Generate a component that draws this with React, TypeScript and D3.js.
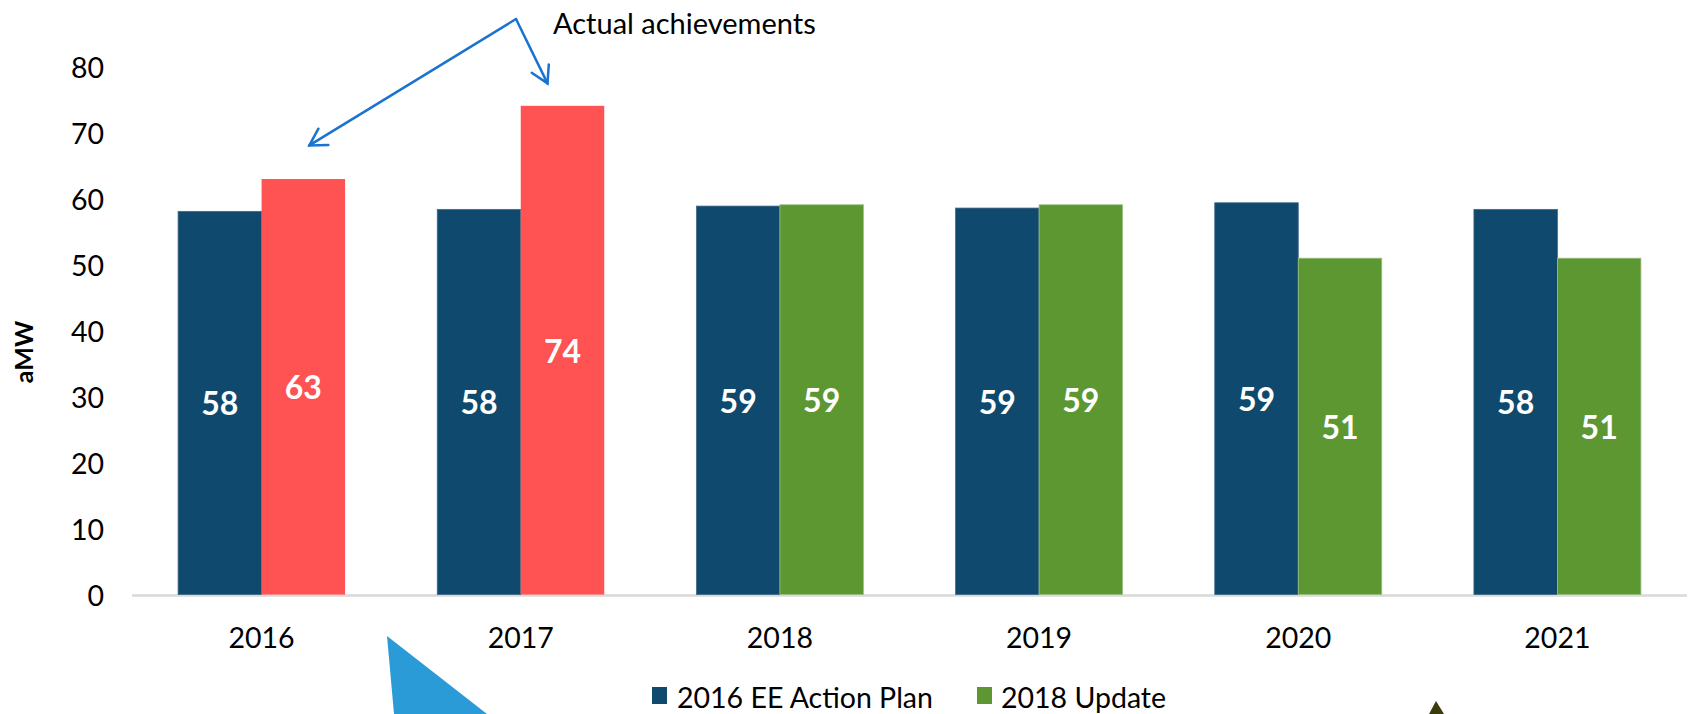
import React from "react";
import * as d3 from "d3";

const years = ["2016", "2017", "2018", "2019", "2020", "2021"];
const planValues = [58.1, 58.4, 58.9, 58.6, 59.4, 58.4];
const planLabels = ["58", "58", "59", "59", "59", "58"];
const updateValues = [63.0, 74.1, 59.1, 59.1, 51.0, 51.0];
const updateLabels = ["63", "74", "59", "59", "51", "51"];
const actualFlags = [true, true, false, false, false, false];
const yTicks = [0, 10, 20, 30, 40, 50, 60, 70, 80];
const seriesNames = ["2016 EE Action Plan", "2018 Update"];

const W = 1692;
const H = 714;
const BLUE = "#0f4a6e";
const RED = "#ff5252";
const GREEN = "#5d9732";
const FONT = "Lato, 'Open Sans', sans-serif";

export default function App() {
  const x = d3.scaleBand<string>().domain(years).range([132, 1687]).paddingInner(0).paddingOuter(0);
  const y = d3.scaleLinear().domain([0, 80]).range([594.6, 66.9]);
  const groupW = 167;
  const inner = d3.scaleBand<string>().domain(["a", "b"]).range([0, groupW]);
  const barW = inner.bandwidth();
  const gx = (yr: string) => (x(yr) as number) + (x.bandwidth() - groupW) / 2;

  const start = { x: 516, y: 19 };
  const tip1 = { x: gx("2016") + (inner("b") as number) + barW / 2 + 6, y: y(68.1) };
  const tip2 = { x: gx("2017") + (inner("b") as number) + barW / 2 - 15, y: y(77.5) };

  const arrowHead = (tx: number, ty: number) => {
    const ang = Math.atan2(ty - start.y, tx - start.x);
    const L = 19;
    const a = Math.PI / 6;
    const p1 = [tx - L * Math.cos(ang - a), ty - L * Math.sin(ang - a)];
    const p2 = [tx - L * Math.cos(ang + a), ty - L * Math.sin(ang + a)];
    return `M${p1[0]},${p1[1]} L${tx},${ty} L${p2[0]},${p2[1]}`;
  };

  return (
    <svg width={W} height={H} style={{ position: "absolute", left: 0, top: 0, background: "#fff" }} fontFamily={FONT}>
      <line x1={132} x2={1687} y1={y(0) + 1} y2={y(0) + 1} stroke="#d9d9d9" strokeWidth={2.5} />
      {yTicks.map((t) => (
        <text key={t} x={104} y={y(t)} textAnchor="end" dominantBaseline="central" fontSize={28.5} fill="#000">
          {t}
        </text>
      ))}
      <text
        transform={`translate(23,${352}) rotate(-90)`}
        textAnchor="middle"
        dominantBaseline="central"
        fontSize={25}
        fontWeight="bold"
        fill="#000"
      >
        aMW
      </text>
      {years.map((yr, i) => {
        const g = gx(yr);
        const bx = g + (inner("a") as number);
        const rx = g + (inner("b") as number);
        return (
          <g key={yr}>
            <rect x={bx} y={y(planValues[i])} width={barW} height={y(0) - y(planValues[i])} fill={BLUE} stroke="#3f6a88" strokeWidth={0.8} />
            <rect
              x={rx}
              y={y(updateValues[i])}
              width={barW}
              height={y(0) - y(updateValues[i])}
              fill={actualFlags[i] ? RED : GREEN}
              stroke={actualFlags[i] ? "none" : "#9cbf85"}
              strokeWidth={0.8}
            />
            <text
              x={bx + barW / 2}
              y={(y(planValues[i]) + y(0)) / 2}
              textAnchor="middle"
              dominantBaseline="central"
              fontSize={32}
              fontWeight="bold"
              fill="#fff"
            >
              {planLabels[i]}
            </text>
            <text
              x={rx + barW / 2}
              y={(y(updateValues[i]) + y(0)) / 2}
              textAnchor="middle"
              dominantBaseline="central"
              fontSize={32}
              fontWeight="bold"
              fill="#fff"
            >
              {updateLabels[i]}
            </text>
            <text
              x={(x(yr) as number) + x.bandwidth() / 2}
              y={637}
              textAnchor="middle"
              dominantBaseline="central"
              fontSize={28.5}
              fill="#000"
            >
              {yr}
            </text>
          </g>
        );
      })}
      <text x={553} y={22} dominantBaseline="central" fontSize={29} fill="#000">
        Actual achievements
      </text>
      <g stroke="#1a73cf" strokeWidth={2.5} fill="none" strokeLinecap="round">
        <line x1={start.x} y1={start.y} x2={tip1.x} y2={tip1.y} />
        <line x1={start.x} y1={start.y} x2={tip2.x} y2={tip2.y} />
        <path d={arrowHead(tip1.x, tip1.y)} />
        <path d={arrowHead(tip2.x, tip2.y)} />
      </g>
      <polygon points="387,636 487,714 394,714" fill="#2b9bd8" />
      <polygon points="1436,701 1429,714 1444,714" fill="#3b3a0c" />
      <rect x={652} y={687} width={15} height={17} fill={BLUE} />
      <text x={677} y={697} dominantBaseline="central" fontSize={28.5} fill="#000">
        {seriesNames[0]}
      </text>
      <rect x={977} y={687} width={15} height={17} fill={GREEN} />
      <text x={1001} y={697} dominantBaseline="central" fontSize={28.5} fill="#000">
        {seriesNames[1]}
      </text>
    </svg>
  );
}
